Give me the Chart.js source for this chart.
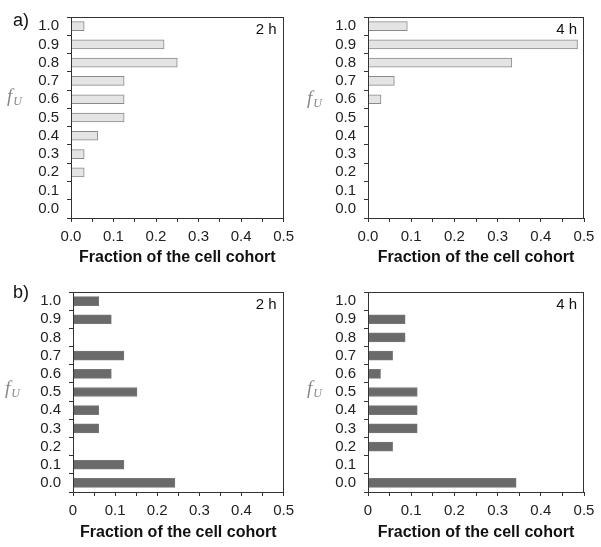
<!DOCTYPE html>
<html>
<head>
<meta charset="utf-8">
<script src="https://cdn.jsdelivr.net/npm/chart.js@4.4.1/dist/chart.umd.min.js"></script>
<style>
  html, body { margin: 0; padding: 0; background: #fff; }
  #wrap { position: relative; width: 601px; height: 547px; }
  canvas { position: absolute; }
</style>
</head>
<body>
<div id="wrap">
  <canvas id="a2h" width="300" height="272" style="left:0;top:0"></canvas>
  <canvas id="a4h" width="301" height="272" style="left:300px;top:0"></canvas>
  <canvas id="b2h" width="300" height="272" style="left:0;top:275px"></canvas>
  <canvas id="b4h" width="301" height="272" style="left:300px;top:275px"></canvas>
</div>
<script>
// f_U categories, top to bottom
const fuLabels = ['1.0', '0.9', '0.8', '0.7', '0.6', '0.5', '0.4', '0.3', '0.2', '0.1', '0.0'];
const xTicksA = ['0.0', '0.1', '0.2', '0.3', '0.4', '0.5'];
const xTicksB = ['0', '0.1', '0.2', '0.3', '0.4', '0.5'];

// fraction of the cell cohort per f_U bin
const panelA2h = [0.031, 0.219, 0.25, 0.125, 0.125, 0.125, 0.063, 0.031, 0.031, 0, 0];
const panelA4h = [0.091, 0.485, 0.333, 0.061, 0.030, 0, 0, 0, 0, 0, 0];
const panelB2h = [0.061, 0.091, 0, 0.121, 0.091, 0.152, 0.061, 0.061, 0, 0.121, 0.242];
const panelB4h = [0, 0.086, 0.086, 0.057, 0.029, 0.114, 0.114, 0.114, 0.057, 0, 0.343];

const sans = '"Liberation Sans", Arial, sans-serif';
const axisColor = '#333';

// box, time note, panel letter and the f_U axis label
const extras = {
  id: 'extras',
  afterDraw(chart, args, opts) {
    const ctx = chart.ctx;
    const a = chart.chartArea;
    ctx.save();
    ctx.strokeStyle = axisColor;
    ctx.lineWidth = 1;
    ctx.strokeRect(Math.round(a.left) + 0.5, Math.round(a.top) + 0.5,
      Math.round(a.right - a.left) - 1, Math.round(a.bottom - a.top));

    ctx.fillStyle = '#111';
    ctx.font = '15px ' + sans;
    ctx.textAlign = 'right';
    ctx.textBaseline = 'top';
    ctx.fillText(opts.note, a.right - 7, a.top + 5);

    if (opts.panel) {
      ctx.font = '18px ' + sans;
      ctx.textAlign = 'left';
      ctx.textBaseline = 'alphabetic';
      ctx.fillText(opts.panel, 13, opts.panelY);
    }

    ctx.fillStyle = '#888';
    ctx.textAlign = 'left';
    ctx.textBaseline = 'alphabetic';
    ctx.font = 'italic 19px "Liberation Serif", "Times New Roman", serif';
    ctx.fillText('f', opts.fuX, opts.fuY);
    const fw = ctx.measureText('f').width;
    ctx.font = 'italic 12px "Liberation Serif", "Times New Roman", serif';
    ctx.fillText('U', opts.fuX + fw + 1, opts.fuY + 3);
    ctx.restore();
  }
};

function makeChart(id, values, xTicks, fill, border, area, extra) {
  const cv = document.getElementById(id);
  return new Chart(cv, {
    type: 'bar',
    data: {
      labels: fuLabels,
      datasets: [{
        data: values,
        backgroundColor: fill,
        borderColor: border,
        borderWidth: 1,
        barThickness: 9,
      }],
    },
    options: {
      indexAxis: 'y',
      responsive: false,
      animation: false,
      layout: { padding: { left: 0, top: area.top, right: cv.width - area.right, bottom: 0 } },
      plugins: {
        legend: { display: false },
        tooltip: { enabled: false },
        extras: extra,
      },
      scales: {
        x: {
          min: 0,
          max: 0.5,
          afterFit: s => { s.height = cv.height - area.bottom; },
          afterBuildTicks: s => {
            s.ticks = [];
            for (let i = 0; i <= 10; i++) s.ticks.push({ value: i * 0.05 });
          },
          ticks: {
            autoSkip: false,
            maxRotation: 0,
            padding: 6,
            color: '#222',
            font: { family: sans, size: 15 },
            callback: (v, i) => (i % 2 === 0 ? xTicks[i / 2] : ''),
          },
          grid: { drawOnChartArea: false, color: axisColor, tickLength: 4 },
          border: { display: false },
          title: {
            display: true,
            text: 'Fraction of the cell cohort',
            color: '#111',
            font: { family: sans, size: 16, weight: 'bold' },
            padding: { top: 0, bottom: 5 },
          },
        },
        y: {
          afterFit: s => { s.width = area.left; },
          ticks: {
            autoSkip: false,
            padding: 8,
            color: '#222',
            font: { family: sans, size: 15 },
          },
          grid: { drawOnChartArea: false, color: axisColor, tickLength: 4, offset: true },
          border: { display: false },
        },
      },
    },
    plugins: [extras],
  });
}

const lightFill = '#e4e4e4', lightBorder = '#8a8a8a';
const darkFill = '#6a6a6a', darkBorder = '#777';

makeChart('a2h', panelA2h, xTicksA, lightFill, lightBorder,
  { left: 71, top: 10, right: 289, bottom: 218 },
  { note: '2 h', panel: 'a)', panelY: 26, fuX: 7, fuY: 102 });
makeChart('a4h', panelA4h, xTicksA, lightFill, lightBorder,
  { left: 68, top: 10, right: 284, bottom: 218 },
  { note: '4 h', fuX: 7, fuY: 104 });
makeChart('b2h', panelB2h, xTicksB, darkFill, darkBorder,
  { left: 73, top: 10, right: 291, bottom: 217 },
  { note: '2 h', panel: 'b)', panelY: 23, fuX: 5, fuY: 119 });
makeChart('b4h', panelB4h, xTicksB, darkFill, darkBorder,
  { left: 68, top: 10, right: 284, bottom: 217 },
  { note: '4 h', fuX: 7, fuY: 119 });
</script>
</body>
</html>
